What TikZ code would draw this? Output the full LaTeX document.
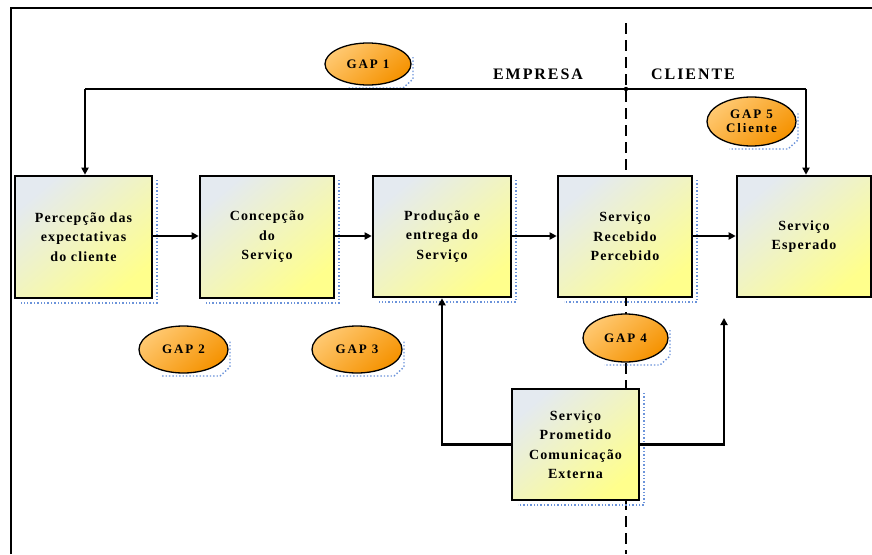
\documentclass[tikz,border=0pt]{standalone}
\usepackage{fontspec}
\setmainfont{Liberation Serif}
\usetikzlibrary{arrows.meta,shapes.geometric}
\definecolor{boxA}{HTML}{E4EAF0}
\definecolor{boxB}{HTML}{FFFF8C}
\definecolor{gapA}{HTML}{FFC870}
\definecolor{gapB}{HTML}{F59200}
\definecolor{shadowblue}{HTML}{6B93DA}
\tikzset{
  stepbox/.style={draw=black, line width=2.6pt, top color=boxA, bottom color=boxB, shading angle=40,
    align=center, font=\fontsize{14}{19.5}\selectfont\bfseries\addfontfeatures{LetterSpace=8}, inner sep=2pt},
  gapnode/.style={ellipse, draw=black, line width=1.3pt, top color=gapA, bottom color=gapB, shading angle=40,
    align=center, font=\fontsize{13}{18}\selectfont\bfseries\addfontfeatures{LetterSpace=14}, inner sep=0pt},
  arr/.style={line width=1.8pt, -{Triangle[length=7pt,width=7pt]}},
  plain/.style={line width=1.8pt},
  sidetxt/.style={font=\fontsize{16}{18}\selectfont\bfseries\addfontfeatures{LetterSpace=12}},
  shadowline/.style={draw=shadowblue, dotted, line width=1.4pt}
}
\begin{document}
\begin{tikzpicture}[x=1pt,y=-1pt]
\useasboundingbox (0,0) rectangle (872,554);
% frame
\draw[line width=2.6pt] (11,554) -- (11,8) -- (872,8);
% dashed separator
\draw[line width=1.4pt, dash pattern=on 11pt off 6pt] (626,23) -- (626,554);

% shadows (drawn behind)
\foreach \cx/\cy/\w/\h in {83.5/237/137/122, 267/237/134/122, 442/236.5/138/121, 625/236.5/134/121, 575.5/444.5/127/111}{
  \draw[shadowline] ({\cx+\w/2+5},{\cy-\h/2+4}) -- ({\cx+\w/2+5},{\cy+\h/2+5}) -- ({\cx-\w/2+6},{\cy+\h/2+5});
}
\foreach \cx/\cy/\w/\h in {368/64/86/42, 751.5/121.5/89/49, 183.5/349.5/89/47, 357/349.5/90/47, 625.5/338/85/48}{
  \draw[shadowline] ({\cx+\w/2+2},{\cy-\h/6}) -- ({\cx+\w/2+2},{\cy+\h/2-6}) -- ({\cx+\w/2-8},{\cy+\h/2+3}) -- ({\cx-\w/4},{\cy+\h/2+3});
}

% boxes
\node[stepbox, minimum width=137pt, minimum height=122pt] (b1) at (83.5,237) {Percepção das\\expectativas\\do cliente};
\node[stepbox, minimum width=134pt, minimum height=122pt] (b2) at (267,237) {Concepção\\do\\Serviço};
\node[stepbox, minimum width=138pt, minimum height=121pt] (b3) at (442,236.5) {Produção e\\entrega do\\Serviço};
\node[stepbox, minimum width=134pt, minimum height=121pt] (b4) at (625,236.5) {Serviço\\Recebido\\Percebido};
\node[stepbox, minimum width=134pt, minimum height=121pt] (b5) at (804,236.5) {Serviço\\Esperado};
\node[stepbox, minimum width=127pt, minimum height=111pt] (b6) at (575.5,444.5) {Serviço\\Prometido\\Comunicação\\Externa};

% gaps
\node[gapnode, minimum width=86pt, minimum height=42pt] (g1) at (368,64) {GAP 1};
\node[gapnode, minimum width=89pt, minimum height=49pt] (g5) at (751.5,121.5) {GAP 5\\[-4pt]Cliente};
\node[gapnode, minimum width=89pt, minimum height=47pt] (g2) at (183.5,349.5) {GAP 2};
\node[gapnode, minimum width=90pt, minimum height=47pt] (g3) at (357,349.5) {GAP 3};
\node[gapnode, minimum width=85pt, minimum height=48pt] (g4) at (625.5,338) {GAP 4};

% labels
\node[sidetxt] (emp) at (538,74) {EMPRESA};
\node[sidetxt] (cli) at (693,74) {CLIENTE};

% top feedback line
\coordinate (tl) at (85,89);
\coordinate (tr) at (806,89);
\coordinate (tj) at (626,89);
\draw[plain, line width=1.5pt] (tl) -- (tr);
\draw[arr] (tl) -- (tl |- b1.north);
\draw[arr] (tr) -- (tr |- b5.north);
\fill (tj) circle (2.2pt);

% main chain
\draw[arr] (b1.east |- 0,236) -- (b2.west |- 0,236);
\draw[arr] (b2.east |- 0,236) -- (b3.west |- 0,236);
\draw[arr] (b3.east |- 0,236) -- (b4.west |- 0,236);
\draw[arr] (b4.east |- 0,236) -- (b5.west |- 0,236);

% bottom connectors
\coordinate (up) at (724,318);
\draw[arr, line width=2.4pt] (b6.west) -| (b3.south);
\draw[arr, line width=2.4pt] (b6.east) -| (up);
\end{tikzpicture}
\end{document}
